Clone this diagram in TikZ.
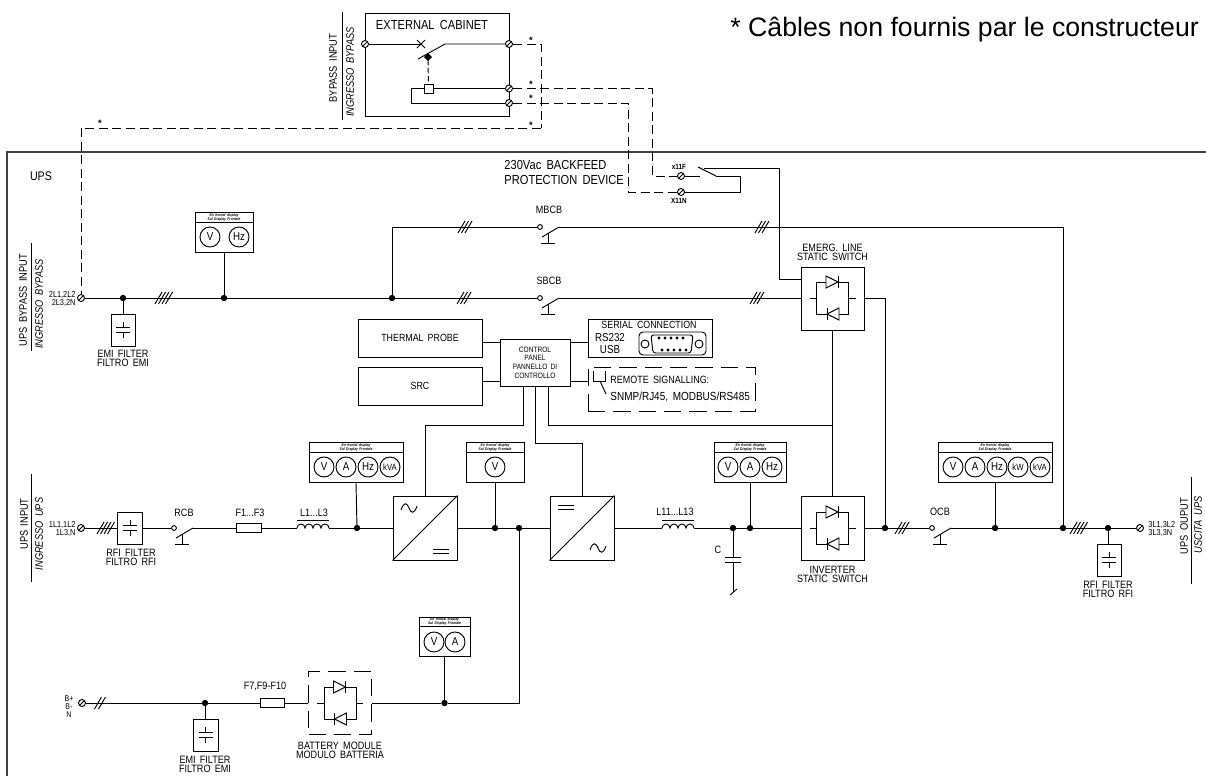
\documentclass[tikz,border=0pt]{standalone}
\usepackage{fontspec}
\setmainfont[WordSpace=1.7,FakeStretch=0.85]{Liberation Sans}
\newfontfamily\notefont{Liberation Sans}

\tikzset{
  lbl/.style={inner sep=0.75pt,align=center,font=\fontsize{8}{6.9}\selectfont},
  lblbig/.style={inner sep=0.75pt,align=left,font=\fontsize{9.8}{11.2}\selectfont},
  termtxt/.style={inner sep=0pt,align=right,font=\fontsize{6.5}{6.6}\selectfont},
  vert/.style={inner sep=0.75pt,rotate=90,font=\fontsize{8.2}{9}\selectfont},
  vertit/.style={inner sep=0.75pt,rotate=90,font=\fontsize{8.2}{9}\itshape},
  box/.style={draw,inner sep=0pt,fill=white},
  dashline/.style={dash pattern=on 6.75pt off 3.4pt},
  dashbox/.style={draw,inner sep=0pt,dash pattern=on 13pt off 6pt},
  terminal/.style={draw,circle,fill=white,inner sep=0pt,minimum size=5.25pt,
    path picture={\draw[line width=0.6pt] (path picture bounding box.south west) -- (path picture bounding box.north east);}},
  junction/.style={draw,circle,fill=black,inner sep=0pt,minimum size=4pt},
  contact/.style={draw,circle,fill=white,inner sep=0pt,minimum size=3.6pt},
  head/.style={draw,inner sep=0pt,minimum height=7.5pt,align=center,font=\fontsize{2.9}{3}\bfseries\itshape},
  body/.style={draw,inner sep=0pt,minimum height=22pt,anchor=north},
  meter/.style={draw,circle,inner sep=0pt,minimum size=15pt,font=\fontsize{8.6}{9}\selectfont},
  meterk/.style={meter,font=\fontsize{6.8}{7}\selectfont},
  starlbl/.style={inner sep=0pt,font=\notefont\fontsize{7}{7}\bfseries},
  pics/breaker/.style={code={
    \draw (2,-10) -- (19,0);
    \draw (8,-6) -- (8,-16);
    \draw (1,-16) -- (15,-16);
  }},
  pics/wiresb/.style={code={
    \draw (-5.5,-6) -- (1.5,6);
    \draw (-1.5,-6) -- (5.5,6);
  }},
  pics/wiresc/.style={code={
    \draw (-7,-6) -- (0,6);
    \draw (-3.5,-6) -- (3.5,6);
    \draw (0,-6) -- (7,6);
  }},
  pics/wiresd/.style={code={
    \draw (-9,-6) -- (-2,6);
    \draw (-5.5,-6) -- (1.5,6);
    \draw (-2,-6) -- (5,6);
    \draw (1.5,-6) -- (8.5,6);
  }},
  pics/coil/.style={code={
    \draw (0,8) -- (32,8);
    \draw (0,0) arc (180:0:4) arc (180:0:4) arc (180:0:4) arc (180:0:4);
  }},
  pics/filtercap/.style={code={
    \draw (-7,-2.5) -- (7,-2.5);
    \draw (-7,2.5) -- (7,2.5);
    \draw (0,-8) -- (0,-2.5);
    \draw (0,2.5) -- (0,8);
  }},
  pics/acwave/.style={code={
    \draw (-8,-2) .. controls (-5,7) and (-2,5) .. (0,0) .. controls (2,-5) and (5,-7) .. (8,2);
  }},
  pics/dcbars/.style={code={
    \draw (-8,-2) -- (8,-2);
    \draw (-8,2) -- (8,2);
  }},
  pics/diodepair/.style={code={
    \draw (-16,-16) rectangle (16,16);
    \draw (-23,0) -- (-16,0);
    \draw (16,0) -- (23,0);
    \draw[fill=white] (-6.5,22) -- (5.5,16) -- (-6.5,10) -- cycle;
    \draw (5.5,22) -- (5.5,10);
    \draw[fill=white] (6.5,-22) -- (-5.5,-16) -- (6.5,-10) -- cycle;
    \draw (-5.5,-22) -- (-5.5,-10);
  }},
}

\begin{document}
\begin{tikzpicture}[x=0.75pt,y=0.75pt,yscale=-1,xscale=1,line width=0.7pt]
\useasboundingbox (0,0) rectangle (1206,776);

%UPS frame
\coordinate (frameA) at (1206,152);
\coordinate (frameB) at (7,776);
\draw [line width=1pt,black!75] (frameA) -| (frameB);

% Text Node
\draw (730,30) node [anchor=west][inner sep=0pt][font=\notefont\fontsize{20}{22}\selectfont] (noteCable) {* Câbles non fournis par le constructeur};
\draw (41,176) node [lbl,font=\fontsize{9.4}{9}\selectfont] (upsLbl) {UPS};

%External cabinet
\draw (437,64.5) node [box,minimum width=108pt,minimum height=77.25pt] (cabinet) {};
\draw (432,25) node [lbl,font=\fontsize{9.8}{9}\selectfont] (cabinetLbl) {EXTERNAL CABINET};
\draw (333,68) node [vert] (bypInLbl) {BYPASS INPUT};
\draw (350,72) node [vertit] (bypInLblIt) {INGRESSO BYPASS};
\coordinate (bypRuleA) at (342,12);
\coordinate (bypRuleB) at (342,120);
\draw (bypRuleA) -- (bypRuleB);

\coordinate (brkIn) at (421,44);
\coordinate (brkOut) at (445,44);
\coordinate (brkBlade) at (418,59);
\coordinate (coilTop) at (428,60);
\coordinate (loopCorner) at (411,103);
\draw (365,44) node [terminal] (tCabIn) {};
\draw (509,44) node [terminal] (tCabA) {};
\draw (509,88.5) node [terminal] (tCabB) {};
\draw (509,103) node [terminal] (tCabC) {};
\draw (428.5,88.5) node [box,minimum size=6.75pt] (coilBox) {};
\draw (411,88.5) coordinate (loopTop);
\draw (tCabIn) -- (brkIn);
\draw (417,40) -- (425,48);
\draw (417,48) -- (425,40);
\draw (brkBlade) -- (brkOut) -- (tCabA);
\fill (428,53) -- (432,57) -- (428,61) -- (424,57) -- cycle;
\draw [dash pattern=on 4pt off 2pt] (coilTop) -- (coilBox);
\draw (loopCorner) -- (loopTop) -- (coilBox) -- (tCabB);
\draw (loopCorner) -- (tCabC);

%Backfeed contact
\draw (503,172.5) node [anchor=west][lblbig] (backfeedLbl) {230Vac BACKFEED\\PROTECTION DEVICE};
\draw (681,176) node [terminal] (tXF) {};
\draw (681,192) node [terminal] (tXN) {};
\draw (679,167) node [termtxt,font=\fontsize{5.6}{6}\bfseries] (xFLbl) {x11F};
\draw (679,201) node [termtxt,font=\fontsize{5.6}{6}\bfseries] (xNLbl) {X11N};
\coordinate (xContact) at (700,176);
\coordinate (xBladeA) at (698,167);
\coordinate (xBladeB) at (716,176);
\coordinate (xTop) at (704,168);
\coordinate (emergIn) at (801,279);
\draw (tXF) -- (xContact);
\draw (xBladeA) -- (xBladeB);
\draw (tXN) -- ++(59,0) |- (xBladeB);
\draw (xTop) -- ++(75,0) |- (emergIn);

%Bypass line
\draw (81,298) node [terminal] (tByp) {};
\draw (123,298) node [junction] (jEmiA) {};
\draw (224,298) node [junction] (jBypDisp) {};
\draw (392,298) node [junction] (jMbcb) {};
\draw (540,298) node [contact] (sbcb) {};
\draw (540,227) node [contact] (mbcb) {};
\coordinate (sbcbOut) at (559,298);
\coordinate (mbcbOut) at (559,227);
\pic at (540,298) {breaker};
\pic at (540,227) {breaker};
\draw (549,210) node [lbl] (mbcbLbl) {MBCB};
\draw (549,281) node [lbl] (sbcbLbl) {SBCB};
\pic at (164,298) {wiresd};
\pic at (464,298) {wiresc};
\pic at (757,298) {wiresc};
\pic at (465,227) {wiresc};
\pic at (762,227) {wiresc};
\draw (832.5,298.5) node [box,minimum width=47.25pt,minimum height=47.25pt] (emerg) {};
\pic at (832.5,298) {diodepair};
\draw (832.5,252.5) node [lbl] (emergLbl) {EMERG. LINE\\STATIC SWITCH};
\draw (tByp) -- (jEmiA) -- (jBypDisp) -- (jMbcb) -- (sbcb);
\draw (sbcbOut) -- (sbcbOut -| emerg.west);
\draw (jMbcb) |- (mbcb);

%Dashed cables
\coordinate (cornerTop) at (541,128);
\draw [dashline] (tCabA) -| (cornerTop);
\draw [dashline] (cornerTop) -| (tByp);
\draw [dashline] (tCabB) -- ++(143,0) |- (tXF);
\draw [dashline] (tCabC) -- ++(119,0) |- (tXN);
\draw (531,40) node [starlbl] (starA) {*};
\draw (531,84) node [starlbl] (starB) {*};
\draw (531,98) node [starlbl] (starC) {*};
\draw (531,125) node [starlbl] (starD) {*};
\draw (100,123) node [starlbl] (starE) {*};

%Bypass display
\draw (224,217) node [head,minimum width=43.5pt] (dispBypHead) {En frontal display\\Sul Display Frontale};
\draw (dispBypHead.south) node [body,minimum width=43.5pt] (dispByp) {};
\draw (210,237) node [meter] (mBypV) {V};
\draw (239,237) node [meter] (mBypHz) {Hz};
\draw (dispByp.south) -- (jBypDisp);

\draw (123,330) node [box,minimum width=18pt,minimum height=24pt] (emiByp) {};
\pic at (123,330) {filtercap};
\draw (jEmiA) -- (emiByp);
\draw (123,358.5) node [lbl] (emiBypLbl) {EMI FILTER\\FILTRO EMI};

\draw (23,300) node [vert] (upsBypLbl) {UPS BYPASS INPUT};
\draw (39,304) node [vertit] (upsBypLblIt) {INGRESSO BYPASS};
\coordinate (upsBypRuleA) at (31,243);
\coordinate (upsBypRuleB) at (31,351);
\draw (upsBypRuleA) -- (upsBypRuleB);
\draw (76,299) node [anchor=east][termtxt] (tBypLbl) {2L1,2L2\\2L3,2N};

%Control panel
\draw (420,338) node [box,minimum width=93pt,minimum height=28.5pt,font=\fontsize{7.8}{9}\selectfont] (probe) {THERMAL PROBE};
\draw (420,386) node [box,minimum width=93pt,minimum height=28.5pt,font=\fontsize{7.8}{9}\selectfont] (src) {SRC};
\draw (535,362.5) node [box,minimum width=52.5pt,minimum height=35.25pt,align=center,font=\fontsize{5.8}{6.5}\selectfont] (ctrl) {CONTROL\\PANEL\\PANNELLO DI\\CONTROLLO};
\draw (650,338) node [box,minimum width=93pt,minimum height=28.5pt] (serial) {};
\draw (671.5,389) node [dashbox,minimum width=125.25pt,minimum height=33pt] (remote) {};
\coordinate (linkA) at (500,342);
\coordinate (linkB) at (500,381);
\coordinate (linkC) at (570,342);
\coordinate (linkD) at (570,381);
\draw (linkA) -- (linkA -| probe.east);
\draw (linkB) -- (linkB -| src.east);
\draw (linkC) -- (linkC -| serial.west);
\draw (linkD) -- (linkD -| remote.west);

%Serial port
\draw (649,325) node [lbl,font=\fontsize{7.8}{9}\selectfont] (serialLbl) {SERIAL CONNECTION};
\draw (610,343.5) node [lbl,font=\fontsize{8.6}{9}\selectfont] (rsLbl) {RS232\\USB};
\draw [rounded corners=3pt] (639,332) rectangle (706,355);
\draw (645,344) circle (4);
\draw (699,344) circle (4);
\draw [rounded corners=2pt] (651,335) -- (693,335) -- (691,353) -- (653,353) -- cycle;
\fill (659,338) circle (1.7) (665,338) circle (1.7) (671,338) circle (1.7) (677,338) circle (1.7) (683,338) circle (1.7);
\fill (662,350) circle (1.7) (668,350) circle (1.7) (674,350) circle (1.7) (680,350) circle (1.7) (686,350) circle (1.7);

%Remote signalling
\draw (609,380) node [anchor=west][lbl,font=\fontsize{7.9}{9}\selectfont] (remoteLblA) {REMOTE SIGNALLING:};
\draw (609,397) node [anchor=west][lbl,font=\fontsize{8.8}{9}\selectfont] (remoteLblB) {SNMP/RJ45, MODBUS/RS485};
\draw (593,371) -- (593,381) -- (605,381) -- (605,371);
\draw (600,381) -- (606,394);

%Main line
\draw (81,528) node [terminal] (tIn) {};
\draw (130,528) node [box,minimum width=18.75pt,minimum height=24pt] (rfiIn) {};
\pic at (130,528) {filtercap};
\pic at (106,528) {wiresd};
\draw (tIn) -- (rfiIn);
\draw (131,557) node [lbl] (rfiInLbl) {RFI FILTER\\FILTRO RFI};
\draw (174,528) node [contact] (rcb) {};
\coordinate (rcbOut) at (193,528);
\pic at (174,528) {breaker};
\draw (184,513) node [lbl] (rcbLbl) {RCB};
\draw (rfiIn) -- (rcb);
\draw (248.5,528) node [box,minimum width=18.75pt,minimum height=6.75pt] (fuseIn) {};
\draw (250,513) node [lbl] (fuseInLbl) {F1...F3};
\coordinate (coilInA) at (297,528);
\coordinate (coilInB) at (329,528);
\pic at (297,528) {coil};
\draw (314,513) node [lbl] (coilInLbl) {L1...L3};
\draw (rcbOut) -- (fuseIn) -- (coilInA);
\draw (357,528) node [junction] (jIn) {};
\draw (425,528) node [box,minimum size=48pt] (rect) {};
\draw (rect.south west) -- (rect.north east);
\pic at (409,508) {acwave};
\pic at (441,551.5) {dcbars};
\draw (coilInB) -- (jIn) -- (rect);
\draw (495,528) node [junction] (jV) {};
\draw (519,528) node [junction] (jBat) {};
\draw (582,528) node [box,minimum size=48pt] (inv) {};
\draw (inv.south west) -- (inv.north east);
\pic at (566,507) {dcbars};
\pic at (598,548) {acwave};
\draw (rect) -- (jV) -- (jBat) -- (inv);
\coordinate (coilOutA) at (662,528);
\coordinate (coilOutB) at (694,528);
\pic at (662,528) {coil};
\draw (675,512) node [lbl] (coilOutLbl) {L11...L13};
\draw (inv) -- (coilOutA);
\draw (733,528) node [junction] (jCap) {};
\draw (750,528) node [junction] (jW) {};
\draw (832.5,528) node [box,minimum width=47.25pt,minimum height=48pt] (invsw) {};
\pic at (832.5,528) {diodepair};
\draw (832.5,574.5) node [lbl] (invswLbl) {INVERTER\\STATIC SWITCH};
\draw (coilOutB) -- (jCap) -- (jW) -- (invsw);

%Capacitor
\coordinate (capA) at (733,557);
\coordinate (capB) at (733,562);
\coordinate (capEnd) at (733,592);
\draw (jCap) -- (capA);
\draw (725,557) -- (741,557);
\draw (725,562) -- (741,562);
\draw (capB) -- (capEnd);
\draw (730,595) -- (737,589);
\draw (718,550) node [lbl] (capLbl) {C};

%Output line
\draw (885,528) node [junction] (jOutA) {};
\draw (932,528) node [contact] (ocb) {};
\coordinate (ocbOut) at (951,528);
\pic at (932,528) {breaker};
\draw (940,512) node [lbl] (ocbLbl) {OCB};
\pic at (902,528) {wiresc};
\pic at (1079,528) {wiresd};
\draw (995,528) node [junction] (jOutB) {};
\draw (1063,528) node [junction] (jOutC) {};
\draw (1108,528) node [junction] (jOutD) {};
\draw (1140,528) node [terminal] (tOut) {};
\draw (invsw) -- (jOutA) -- (ocb);
\draw (ocbOut) -- (jOutB) -- (jOutC) -- (jOutD) -- (tOut);
\draw (emerg.east) -| (jOutA);
\draw (mbcbOut) -| (jOutC);
\draw (emerg) -- (invsw);
\draw (1109,560) node [box,minimum width=18pt,minimum height=24pt] (rfiOut) {};
\pic at (1109,560) {filtercap};
\draw (jOutD) -- (jOutD |- rfiOut.north);
\draw (1108,589.5) node [lbl] (rfiOutLbl) {RFI FILTER\\FILTRO RFI};
\draw (1148,529) node [anchor=west][termtxt,align=left] (tOutLbl) {3L1,3L2\\3L3,3N};

%Control wires
\coordinate (ctrlA) at (523,386);
\coordinate (ctrlB) at (535,386);
\coordinate (ctrlC) at (548,386);
\coordinate (tapC) at (832.5,425);
\draw (ctrlA) -- ++(0,39) -| (rect.north);
\draw (ctrlB) -- ++(0,57) -| (inv.north);
\draw (ctrlC) |- (tapC);

%Input display
\draw (356,447) node [head,minimum width=70.5pt] (dispInHead) {En frontal display\\Sul Display Frontale};
\draw (dispInHead.south) node [body,minimum width=70.5pt] (dispIn) {};
\draw (324,467) node [meter] (mInV) {V};
\draw (346,467) node [meter] (mInA) {A};
\draw (368,467) node [meter] (mInHz) {Hz};
\draw (390,467) node [meterk] (mInKva) {kVA};
\draw (dispIn.south) -- (jIn);

%Link display
\draw (495,447) node [head,minimum width=43.5pt] (dispLinkHead) {En frontal display\\Sul Display Frontale};
\draw (dispLinkHead.south) node [body,minimum width=43.5pt] (dispLink) {};
\draw (495,467) node [meter] (mLinkV) {V};
\draw (dispLink.south) -- (jV);

%Inverter display
\draw (750,447) node [head,minimum width=54pt] (dispInvHead) {En frontal display\\Sul Display Frontale};
\draw (dispInvHead.south) node [body,minimum width=54pt] (dispInv) {};
\draw (728,467) node [meter] (mInvV) {V};
\draw (750,467) node [meter] (mInvA) {A};
\draw (772,467) node [meter] (mInvHz) {Hz};
\draw (dispInv.south) -- (jW);

%Output display
\draw (995,447) node [head,minimum width=85.5pt] (dispOutHead) {En frontal display\\Sul Display Frontale};
\draw (dispOutHead.south) node [body,minimum width=85.5pt] (dispOut) {};
\draw (953,467) node [meter] (mOutV) {V};
\draw (975,467) node [meter] (mOutA) {A};
\draw (997,467) node [meter] (mOutHz) {Hz};
\draw (1018,467) node [meterk] (mOutKw) {kW};
\draw (1040,467) node [meterk] (mOutKva) {kVA};
\draw (dispOut.south) -- (jOutB);

%Battery line
\draw (82,703) node [terminal] (tBat) {};
\draw (69,706.5) node [termtxt,align=center,font=\fontsize{6.2}{6.2}\selectfont] (tBatLbl) {B+\\B-\\N};
\pic at (100,703) {wiresb};
\draw (205,703) node [junction] (jEmiB) {};
\draw (272,703) node [box,minimum width=18pt,minimum height=6.75pt] (fuseBat) {};
\draw (265,686) node [lbl] (fuseBatLbl) {F7,F9-F10};
\draw (340,703) node [dashbox,minimum size=47.25pt] (batMod) {};
\pic at (340,703) {diodepair};
\draw (340,750) node [lbl] (batModLbl) {BATTERY MODULE\\MODULO BATTERIA};
\draw (444.5,703) node [junction] (jBatDisp) {};
\draw (tBat) -- (jEmiB) -- (fuseBat) -- (batMod.west);
\draw (batMod.east) -- (jBatDisp) -| (jBat);
\draw (205.5,735) node [box,minimum width=18.75pt,minimum height=24pt] (emiBat) {};
\pic at (205.5,735) {filtercap};
\draw (jEmiB) -- (jEmiB |- emiBat.north);
\draw (205,764.5) node [lbl] (emiBatLbl) {EMI FILTER\\FILTRO EMI};

%Battery display
\draw (444.5,621.5) node [head,minimum width=38.25pt,minimum height=6.75pt] (dispBatHead) {En frontal display\\Sul Display Frontale};
\draw (dispBatHead.south) node [body,minimum width=38.25pt] (dispBat) {};
\draw (434,642) node [meter] (mBatV) {V};
\draw (455,642) node [meter] (mBatA) {A};
\draw (dispBat.south) -- (jBatDisp);

%Side labels
\draw (24,524) node [vert] (upsInLbl) {UPS INPUT};
\draw (39,534) node [vertit] (upsInLblIt) {INGRESSO UPS};
\coordinate (upsInRuleA) at (31,474);
\coordinate (upsInRuleB) at (31,582);
\draw (upsInRuleA) -- (upsInRuleB);
\draw (76,529) node [anchor=east][termtxt] (tInLbl) {1L1,1L2\\1L3,N};
\draw (1184,526) node [vert] (upsOutLbl) {UPS OUPUT};
\draw (1198,525) node [vertit] (upsOutLblIt) {USCITA UPS};
\coordinate (upsOutRuleA) at (1191,477);
\coordinate (upsOutRuleB) at (1191,584);
\draw (upsOutRuleA) -- (upsOutRuleB);

\end{tikzpicture}
\end{document}
